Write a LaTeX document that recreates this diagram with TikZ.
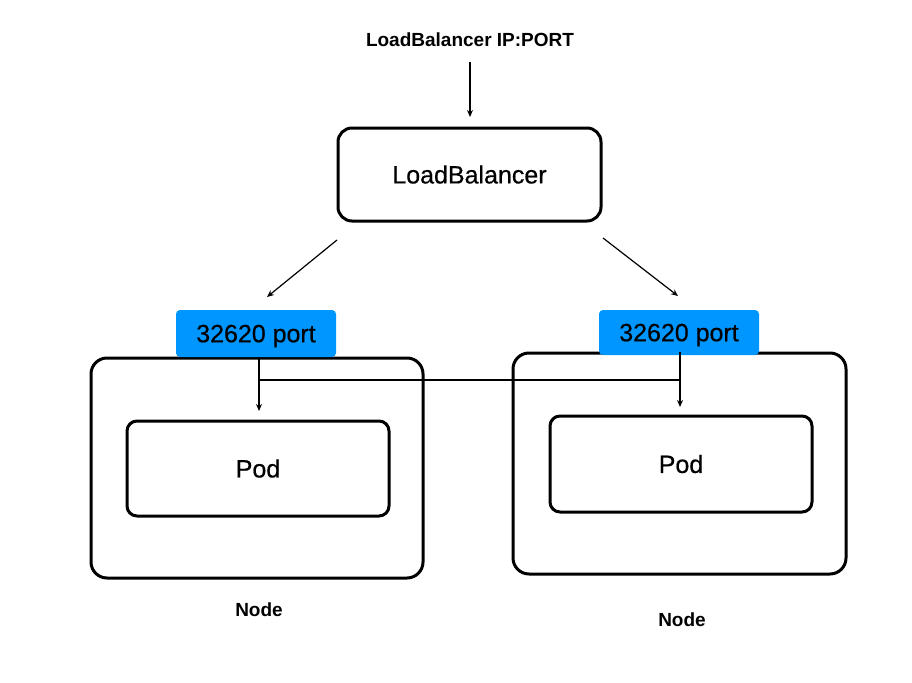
\documentclass[tikz,border=0pt]{standalone}
\usepackage{fontspec}
\setmainfont{Liberation Sans}
\newfontfamily\medfont[FakeBold=0.5]{Liberation Sans}
\usetikzlibrary{arrows.meta}
\definecolor{portblue}{HTML}{0096FF}
\tikzset{
  box/.style={draw, line width=3pt, rounded corners=#1},
  box/.default=12pt,
  portbox/.style={fill=portblue, rounded corners=4pt, minimum width=160pt, minimum height=47pt, inner sep=0pt, text depth=0pt, font=\medfont\fontsize{25}{28}\selectfont},
  conn/.style={line width=1.2pt},
  arr/.style={conn, -{Stealth[length=7pt,width=6pt]}},
  lbl/.style={font=\bfseries\fontsize{19}{22}\selectfont, inner sep=0pt},
  big/.style={font=\medfont\fontsize{25}{28}\selectfont, inner sep=0pt}
}
\begin{document}
\begin{tikzpicture}[x=1pt,y=-1pt]
\useasboundingbox (0,0) rectangle (912,682);
% top label
\node[lbl] (ip) at (470,40) {LoadBalancer IP:PORT};
\coordinate (ipb) at (470,62);
\coordinate (ipe) at (470,117);
% load balancer
\node[box=14pt, minimum width=263pt, minimum height=93pt, big] (lb) at (469.5,174.5) {LoadBalancer};
\draw[arr] (ipb) -- (ipe);
% node boxes
\node[box=16pt, minimum width=332pt, minimum height=220pt] (n1) at (257,468) {};
\node[box=16pt, minimum width=333pt, minimum height=221pt] (n2) at (679.5,463.5) {};
% pod boxes
\node[box=10pt, minimum width=262pt, minimum height=95pt, big] (p1) at (258,468.5) {Pod};
\node[box=10pt, minimum width=262pt, minimum height=96pt, big] (p2) at (681,464) {Pod};
% port boxes
\node[portbox] (q1) at (256,333.5) {32620 port};
\node[portbox, minimum height=45pt] (q2) at (679,332.5) {32620 port};
% labels
\node[lbl] (l1) at (259,610) {Node};
\node[lbl] (l2) at (682,620) {Node};
% connectors
\coordinate (a1s) at (337,240);
\coordinate (a1e) at (267,297);
\coordinate (a2s) at (603,238);
\coordinate (a2e) at (678,296);
\draw[arr] (a1s) -- (a1e);
\draw[arr] (a2s) -- (a2e);
\coordinate (v1) at (259,357);
\coordinate (v2) at (680,352);
\coordinate (h1) at (259,380);
\coordinate (h2) at (680,380);
\coordinate (e1) at (259,411);
\coordinate (e2) at (680,407);
\draw[arr] (v1) -- (e1);
\draw[arr] (v2) -- (e2);
\draw[conn] (h1) -- (h2);
\end{tikzpicture}
\end{document}
